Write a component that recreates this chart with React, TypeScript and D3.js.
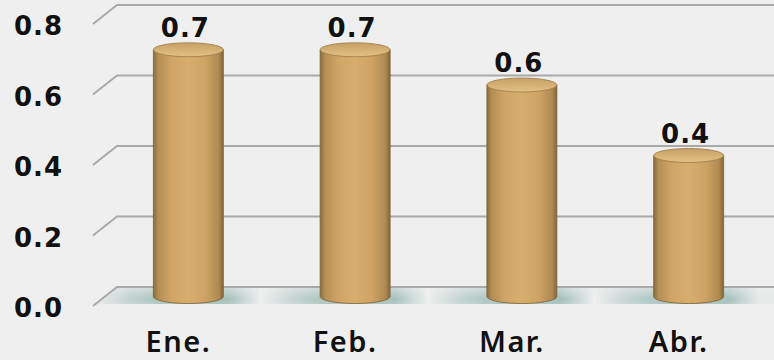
import React from 'react';
import * as d3 from 'd3';

const categories = ['Ene.', 'Feb.', 'Mar.', 'Abr.'];
const values = [0.7, 0.7, 0.6, 0.4];
const tickValues = [0, 0.2, 0.4, 0.6, 0.8];

const W = 774;
const H = 360;
// perspective offset of the front edge
const DX = -24;
const DY = 19;

const App = () => {
  const y = d3.scaleLinear().domain([0, 0.8]).range([287, 5]);
  const x = d3.scaleBand<string>().domain(categories).range([105, 772]);
  const rx = 35;
  const ry = 7;
  const wallLeft = 117;
  const fmt = d3.format('.1f');

  // floor shadow stops from the bar positions
  const floorStops: { off: number; op: number }[] = [];
  const fx0 = wallLeft + DX;
  const fw = W - fx0;
  categories.forEach((c) => {
    const cx = x(c)! + x.bandwidth() / 2;
    floorStops.push({ off: (cx - 95 - fx0) / fw, op: 0 });
    floorStops.push({ off: (cx - 60 - fx0) / fw, op: 0.55 });
    floorStops.push({ off: (cx - 20 - fx0) / fw, op: 0.95 });
    floorStops.push({ off: (cx + 40 - fx0) / fw, op: 0.9 });
    floorStops.push({ off: (cx + 70 - fx0) / fw, op: 0.1 });
  });

  return (
    <svg width={W} height={H} style={{ position: 'fixed', left: 0, top: 0 }}>
      <defs>
        <linearGradient id="body" x1="0" x2="1" y1="0" y2="0">
          <stop offset="0" stopColor="#8a6c3c" />
          <stop offset="0.07" stopColor="#b58e54" />
          <stop offset="0.25" stopColor="#cfa466" />
          <stop offset="0.5" stopColor="#d8ae6e" />
          <stop offset="0.75" stopColor="#cda263" />
          <stop offset="0.93" stopColor="#b08a52" />
          <stop offset="1" stopColor="#83663a" />
        </linearGradient>
        <linearGradient id="cap" x1="0" x2="0" y1="0" y2="1">
          <stop offset="0" stopColor="#c6a064" />
          <stop offset="0.6" stopColor="#d9b478" />
          <stop offset="1" stopColor="#e2c086" />
        </linearGradient>
        <linearGradient id="floor" x1={fx0} x2={W} y1="0" y2="0" gradientUnits="userSpaceOnUse">
          {floorStops.map((s, i) => (
            <stop key={i} offset={Math.max(0, Math.min(1, s.off))} stopColor="#9dbcb7" stopOpacity={s.op} />
          ))}
        </linearGradient>
        <linearGradient id="floorFade" x1="0" x2="0" y1="0" y2="1">
          <stop offset="0" stopColor="#efefef" stopOpacity="0.55" />
          <stop offset="0.7" stopColor="#efefef" stopOpacity="0" />
          <stop offset="1" stopColor="#efefef" stopOpacity="0.15" />
        </linearGradient>
      </defs>
      <rect width={W} height={H} fill="#efefef" />

      {/* floor */}
      <path
        d={`M${wallLeft},${y(0)} L${W},${y(0)} L${W},${y(0) + DY - 2} L${wallLeft + DX},${y(0) + DY - 2} Z`}
        fill="url(#floor)"
      />
      <path
        d={`M${wallLeft},${y(0)} L${W},${y(0)} L${W},${y(0) + DY - 2} L${wallLeft + DX},${y(0) + DY - 2} Z`}
        fill="url(#floorFade)"
      />

      {/* grid */}
      {tickValues.map((t) => (
        <g key={t}>
          <path
            d={`M${wallLeft + DX},${y(t) + DY} L${wallLeft},${y(t)} L${W},${y(t)}`}
            fill="none"
            stroke="#a9a9a9"
            strokeWidth={2}
          />
          <text
            x={63}
            y={y(t) + 30}
            textAnchor="end"
            fontFamily="DejaVu Sans"
            fontWeight="bold"
            fontSize={26}
            letterSpacing={1}
            fill="#111"
          >
            {fmt(t)}
          </text>
        </g>
      ))}

      {/* bars */}
      {categories.map((c, i) => {
        const cx = x(c)! + x.bandwidth() / 2;
        const yb = y(0) + DY / 2;
        const yt = y(values[i]) + DY / 2;
        return (
          <g key={c}>
            <path
              d={`M${cx - rx},${yt} L${cx - rx},${yb} A${rx},${ry} 0 0 0 ${cx + rx},${yb} L${cx + rx},${yt} Z`}
              fill="url(#body)"
              stroke="#7d6136"
              strokeWidth={0.8}
            />
            <ellipse cx={cx} cy={yt} rx={rx} ry={ry} fill="url(#cap)" stroke="#9c7a46" strokeWidth={0.8} />
            <text
              x={cx - 3}
              y={yt - ry - 6}
              textAnchor="middle"
              fontFamily="DejaVu Sans"
              fontWeight="bold"
              fontSize={26}
              letterSpacing={1}
              fill="#111"
            >
              {fmt(values[i])}
            </text>
            <text
              x={cx - 10}
              y={352}
              textAnchor="middle"
              fontFamily="Noto Sans"
              fontWeight={600}
              fontSize={29}
              letterSpacing={1.5}
              fill="#111"
            >
              {c}
            </text>
          </g>
        );
      })}
    </svg>
  );
};

export default App;
